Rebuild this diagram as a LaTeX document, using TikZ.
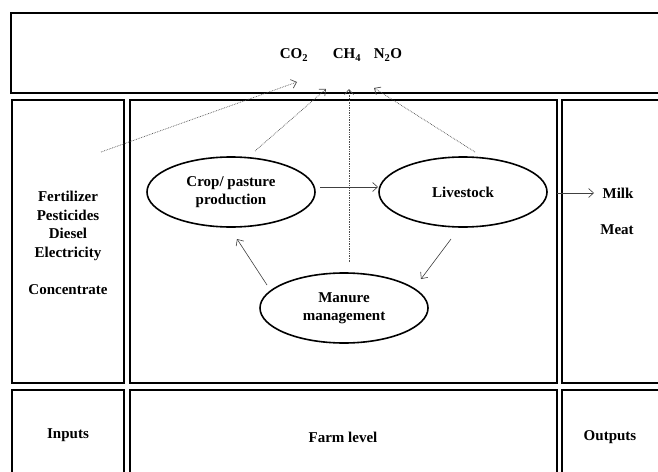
\documentclass[tikz,border=0pt]{standalone}
\usepackage{fontspec}
\setmainfont{Liberation Serif}
\usetikzlibrary{shapes.geometric,arrows.meta}
\begin{document}
\begin{tikzpicture}[x=1pt,y=-1pt,
  panel/.style={draw=black,line width=2pt},
  lbl/.style={font=\fontsize{15}{18.5}\selectfont\bfseries,inner sep=0pt,align=center},
  proc/.style={ellipse,draw=black,line width=1.6pt,minimum width=168pt,minimum height=70pt,inner sep=0pt,font=\fontsize{15}{18.5}\selectfont\bfseries,align=center},
  flow/.style={draw=black!75,line width=0.6pt,-{Straight Barb[length=5pt,width=9pt]}},
  emis/.style={draw=black!70,line width=0.7pt,densely dotted,-{Straight Barb[length=5pt,width=9pt]}}]
\useasboundingbox (0,0) rectangle (658,471);
\clip (0,0) rectangle (658,471);
\fill[white] (0,0) rectangle (658,471);
% panels
\draw[panel] (11,13) rectangle (680,93);
\draw[panel] (12,100) rectangle (124,383);
\draw[panel] (130,100) rectangle (557,383);
\draw[panel] (562,100) rectangle (680,383);
\draw[panel] (12,390) rectangle (124,490);
\draw[panel] (130,390) rectangle (557,490);
\draw[panel] (562,390) rectangle (680,490);
\coordinate (midE) at (557,193);
% gases
\node[lbl] (co2) at (294,55) {CO\textsubscript{2}};
\node[lbl] (ch4) at (347,55) {CH\textsubscript{4}};
\node[lbl] (n2o) at (388,55) {N\textsubscript{2}O};
% inputs
\node[lbl] (inputs) at (68,243) {Fertilizer\\Pesticides\\Diesel\\Electricity\\[18.5pt]Concentrate};
% outputs
\node[lbl] (milk) at (618,193) {Milk};
\node[lbl] (meat) at (617,230) {Meat};
% processes
\node[proc] (crop) at (231,192) {Crop/ pasture\\production};
\node[proc] (live) at (463,192) {Livestock};
\node[proc] (man) at (344,308) {Manure\\management};
% bottom labels
\node[lbl] (inlab) at (68,435) {Inputs};
\node[lbl] (farm) at (343,437) {Farm level};
\node[lbl] (outlab) at (610,437) {Outputs};
% emission start coordinates
\coordinate (eIn) at (101,152);
\coordinate (eCrop) at (255,151);
\coordinate (eMan) at (349,262);
\coordinate (eLive) at (475,152);
\coordinate (tCO2) at (297,82);
\coordinate (tCrop) at (326,89);
\coordinate (tMan) at (349,89);
\coordinate (tLive) at (374,88);
\draw[emis] (eIn) -- (tCO2);
\draw[emis] (eCrop) -- (tCrop);
\draw[emis] (eMan) -- (tMan);
\draw[emis] (eLive) -- (tLive);
% flows
\coordinate (c1) at (320,187);
\coordinate (c2) at (378,187);
\draw[flow] (c1) -- (c2);
\coordinate (l1) at (451,239);
\coordinate (l2) at (421,279);
\draw[flow] (l1) -- (l2);
\coordinate (m1) at (267,285);
\coordinate (m2) at (237,239);
\draw[flow] (m1) -- (m2);
\coordinate (o2) at (594,193);
\draw[flow] (midE) -- (o2);
\end{tikzpicture}
\end{document}
